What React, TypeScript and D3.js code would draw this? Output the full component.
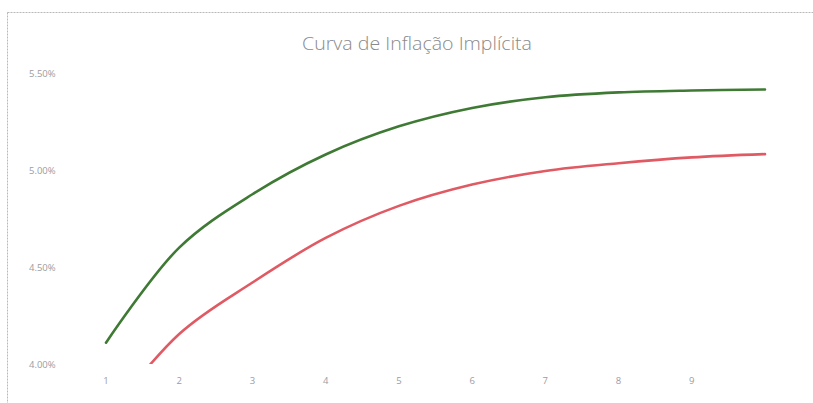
import React, { useEffect, useRef } from 'react';
import * as d3 from 'd3';

// prazos (anos) e taxas implícitas em %
const prazos = [1, 2, 3, 4, 5, 6, 7, 8, 9, 10];
const serieVerde = [4.11, 4.6, 4.875, 5.08, 5.225, 5.32, 5.375, 5.4, 5.41, 5.415];
const serieVermelha = [3.72, 4.155, 4.42, 4.65, 4.815, 4.925, 4.995, 5.035, 5.065, 5.082];
const xTickLabels = ['1', '2', '3', '4', '5', '6', '7', '8', '9'];
const yTicks = [4.0, 4.5, 5.0, 5.5];
const titulo = 'Curva de Inflação Implícita';

const App: React.FC = () => {
    const svgRef = useRef<SVGSVGElement | null>(null);

    useEffect(() => {
        const svg = d3.select(svgRef.current);
        const width = 813;

        svg.selectAll('*').remove();

        // borda tracejada do gráfico
        svg
            .append('rect')
            .attr('x', 7.5)
            .attr('y', 12.5)
            .attr('width', 820)
            .attr('height', 420)
            .attr('fill', 'none')
            .attr('stroke', '#b8b8b8')
            .attr('stroke-dasharray', '2,1');

        const x = d3.scaleLinear().domain([1, 10]).range([106, 765]);
        const y = d3.scaleLinear().domain([4.0, 5.5]).range([364, 73]);

        svg
            .append('text')
            .attr('x', 417)
            .attr('y', 50)
            .attr('text-anchor', 'middle')
            .attr('font-family', 'Open Sans')
            .attr('font-weight', 300)
            .attr('font-size', 18)
            .attr('fill', '#8a8a8a')
            .attr('textLength', 230)
            .attr('lengthAdjust', 'spacingAndGlyphs')
            .text(titulo);

        // rótulos do eixo Y
        svg
            .append('g')
            .selectAll('text')
            .data(yTicks)
            .join('text')
            .attr('x', 29)
            .attr('y', d => y(d) + 4)
            .attr('font-family', 'Open Sans')
            .attr('font-size', 9.5)
            .attr('fill', '#9a9ca4')
            .text(d => d.toFixed(2) + '%');

        // rótulos do eixo X
        svg
            .append('g')
            .selectAll('text')
            .data(xTickLabels)
            .join('text')
            .attr('x', (d, i) => x(prazos[i]))
            .attr('y', 384)
            .attr('text-anchor', 'middle')
            .attr('font-family', 'Open Sans')
            .attr('font-size', 9.5)
            .attr('fill', '#9a9ca4')
            .text(d => d);

        svg
            .append('clipPath')
            .attr('id', 'area-plot')
            .append('rect')
            .attr('x', 0)
            .attr('y', 0)
            .attr('width', width)
            .attr('height', y(4.0));

        const linha = (vals: number[]) =>
            d3
                .line<number>()
                .x((d, i) => x(prazos[i]))
                .y(d => y(d))
                .curve(d3.curveCatmullRom.alpha(0.5))(vals);

        const g = svg.append('g').attr('clip-path', 'url(#area-plot)');

        g.append('path')
            .attr('d', linha(serieVermelha))
            .attr('fill', 'none')
            .attr('stroke', '#e05a64')
            .attr('stroke-width', 2.6)
            .attr('stroke-linecap', 'round');

        g.append('path')
            .attr('d', linha(serieVerde))
            .attr('fill', 'none')
            .attr('stroke', '#3f7a35')
            .attr('stroke-width', 2.6)
            .attr('stroke-linecap', 'round');
    }, []);

    return (
        <svg
            ref={svgRef}
            width={813}
            height={403}
            style={{ position: 'absolute', left: 0, top: 0, background: '#fff' }}
        ></svg>
    );
};

export default App;
